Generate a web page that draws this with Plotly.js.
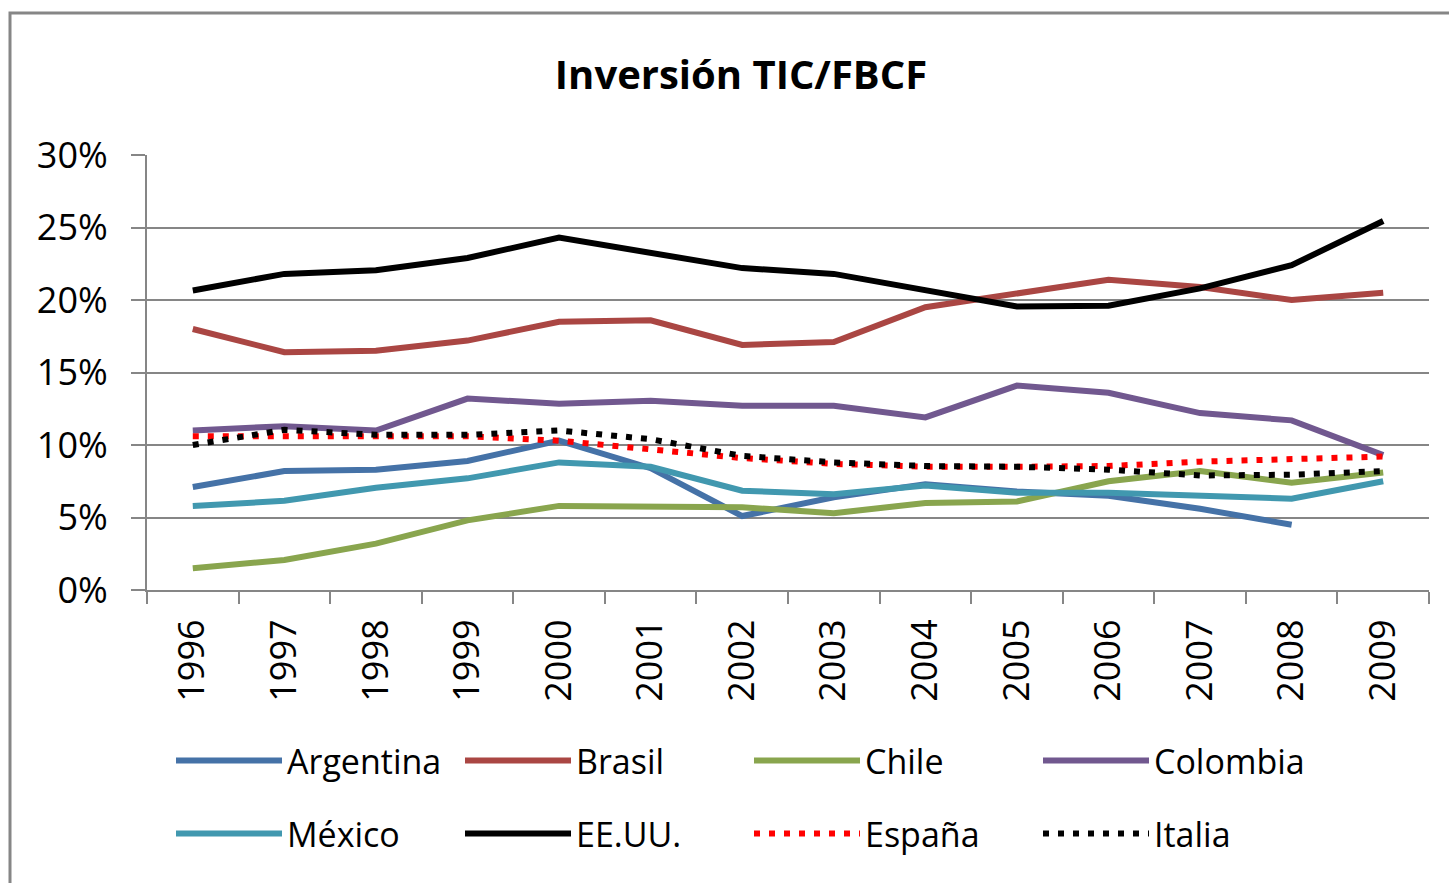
<!DOCTYPE html>
<html>
<head>
<meta charset="utf-8">
<script src="https://cdn.plot.ly/plotly-3.0.1.min.js"></script>
<style>html,body{margin:0;padding:0;background:#fff;}#chart{width:1449px;height:883px;}</style>
</head>
<body>
<div id="chart"></div>
<script>
const years = ['1996','1997','1998','1999','2000','2001','2002','2003','2004','2005','2006','2007','2008','2009'];
const argentina = [7.1, 8.2, 8.3, 8.9, 10.3, 8.4, 5.1, 6.4, 7.3, 6.8, 6.5, 5.6, 4.5, null];
const brasil    = [18.0, 16.4, 16.5, 17.2, 18.5, 18.6, 16.9, 17.1, 19.5, 20.45, 21.4, 20.9, 20.0, 20.5];
const chile     = [1.5, 2.07, 3.2, 4.8, 5.8, 5.7, 5.7, 5.3, 6.0, 6.1, 7.5, 8.2, 7.4, 8.1];
const colombia  = [11.0, 11.3, 11.0, 13.2, 12.85, 13.06, 12.7, 12.7, 11.9, 14.1, 13.6, 12.2, 11.7, 9.3];
const mexico    = [5.8, 6.15, 7.05, 7.7, 8.8, 8.5, 6.85, 6.6, 7.2, 6.7, 6.7, 6.5, 6.3, 7.5];
const eeuu      = [20.66, 21.8, 22.05, 22.9, 24.3, 23.2, 22.2, 21.8, 20.7, 19.56, 19.6, 20.8, 22.4, 25.45];
const espana    = [10.6, 10.6, 10.6, 10.6, 10.3, 9.7, 9.1, 8.7, 8.5, 8.5, 8.55, 8.85, 9.0, 9.2];
const italia    = [10.0, 11.05, 10.7, 10.7, 11.0, 10.4, 9.25, 8.8, 8.55, 8.5, 8.3, 7.9, 7.95, 8.2];
const seriesNames = ['Argentina','Brasil','Chile','Colombia','México','EE.UU.','España','Italia'];
const yTicks = [0, 5, 10, 15, 20, 25, 30];

const FONT = 'Open Sans, Noto Sans, sans-serif';
const styles = [
  {color:'#4572A7', dash:'solid'},
  {color:'#AA4643', dash:'solid'},
  {color:'#89A54E', dash:'solid'},
  {color:'#71588F', dash:'solid'},
  {color:'#4198AF', dash:'solid'},
  {color:'#000000', dash:'solid'},
  {color:'#FF0000', dash:'6px,9px'},
  {color:'#000000', dash:'6px,9px'}
];
const allData = [argentina, brasil, chile, colombia, mexico, eeuu, espana, italia];

const traces = allData.map((vals, i) => ({
  type: 'scatter',
  mode: 'lines',
  name: seriesNames[i],
  x: years,
  y: vals,
  line: {color: styles[i].color, width: 6, dash: styles[i].dash},
  legend: i < 4 ? 'legend' : 'legend2',
  hoverinfo: 'skip'
}));

const legendCommon = {
  orientation: 'h',
  xanchor: 'left',
  yanchor: 'middle',
  font: {family: FONT, size: 34, color: '#000'},
  entrywidth: 168,
  entrywidthmode: 'pixels',
  itemwidth: 106,
  bgcolor: 'rgba(0,0,0,0)',
  borderwidth: 0
};

const layout = {
  width: 1449,
  height: 883,
  paper_bgcolor: '#ffffff',
  plot_bgcolor: '#ffffff',
  margin: {l: 147, r: 20, t: 155, b: 293, pad: 0},
  showlegend: true,
  title: {
    text: 'Inversión TIC/FBCF',
    font: {family: FONT, size: 40, color: '#000', weight: 'bold'},
    xref: 'container', x: 0.5114, xanchor: 'center',
    yref: 'container', y: 1 - 75/883, yanchor: 'middle'
  },
  xaxis: {
    type: 'category',
    range: [-0.5, 13.5],
    tickson: 'boundaries',
    ticks: 'outside',
    ticklen: 12,
    tickwidth: 2,
    tickcolor: '#868686',
    showline: true,
    linecolor: '#868686',
    linewidth: 2,
    showgrid: false,
    tickangle: -90,
    tickfont: {family: FONT, size: 36, color: '#000'},
    ticklabelstandoff: 13,
    automargin: false,
    fixedrange: true
  },
  yaxis: {
    range: [0, 30],
    tickvals: yTicks,
    ticktext: yTicks.map(v => v + '%'),
    ticks: 'outside',
    ticklen: 14,
    tickwidth: 2,
    tickcolor: '#868686',
    showline: true,
    linecolor: '#868686',
    linewidth: 2,
    showgrid: true,
    gridcolor: '#868686',
    gridwidth: 2,
    zeroline: false,
    tickfont: {family: FONT, size: 36, color: '#000'},
    ticklabelstandoff: 16,
    automargin: false,
    fixedrange: true
  },
  legend: Object.assign({}, legendCommon, {x: (171 - 147)/1282, y: (590 - 761)/435}),
  legend2: Object.assign({}, legendCommon, {x: (171 - 147)/1282, y: (590 - 834)/435}),
  shapes: [{
    type: 'rect', xref: 'paper', yref: 'paper',
    x0: (10 - 147)/1282, x1: 1.2, y0: -1, y1: (590 - 13)/435,
    line: {color: '#868686', width: 3}, fillcolor: 'rgba(0,0,0,0)', layer: 'below'
  }]
};

Plotly.newPlot('chart', traces, layout, {displayModeBar: false, staticPlot: true});
</script>
</body>
</html>
